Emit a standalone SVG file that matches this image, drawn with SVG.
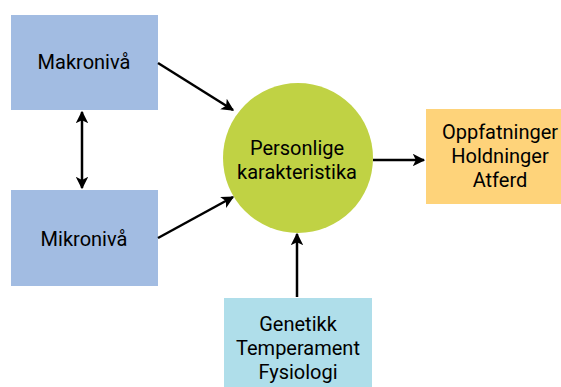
<svg xmlns="http://www.w3.org/2000/svg" width="561" height="387" viewBox="0 0 561 387">
<style>
text{font-family:Roboto,"Liberation Sans",sans-serif;font-size:20px;fill:#000;text-anchor:middle}
.c{stroke:#000;stroke-width:2.5;fill:none}
</style>
<defs>
<marker id="a" viewBox="0 0 10 10" refX="9" refY="5" markerWidth="5" markerHeight="5" orient="auto-start-reverse" markerUnits="strokeWidth">
<path d="M0,0 L10,5 L0,10 L2.5,5 Z" fill="#000"/>
</marker>
</defs>
<rect width="561" height="387" fill="#fff"/>
<g id="makro"><rect x="11" y="15" width="147" height="95" fill="#a2bce2"/><text x="84" y="69">Makronivå</text></g>
<g id="mikro"><rect x="11" y="190" width="147" height="96" fill="#a2bce2"/><text x="84" y="246">Mikronivå</text></g>
<g id="personlige"><circle cx="298" cy="158" r="75" fill="#c0d244"/><text x="297" y="155">Personlige</text><text x="297" y="179">karakteristika</text></g>
<g id="utfall"><rect x="426" y="109" width="148" height="95" fill="#fed37a"/><text x="500" y="139">Oppfatninger</text><text x="500" y="163">Holdninger</text><text x="500" y="187">Atferd</text></g>
<g id="genetikk"><rect x="224" y="298" width="148" height="95" fill="#afdeea"/><text x="298" y="331">Genetikk</text><text x="298" y="355">Temperament</text><text x="298" y="379">Fysiologi</text></g>
<g id="connectors">
<line class="c" x1="158" y1="63" x2="233" y2="110" marker-end="url(#a)"/>
<line class="c" x1="158" y1="238" x2="233" y2="197" marker-end="url(#a)"/>
<line class="c" x1="82" y1="112" x2="82" y2="188" marker-start="url(#a)" marker-end="url(#a)"/>
<line class="c" x1="373" y1="160" x2="424" y2="160" marker-end="url(#a)"/>
<line class="c" x1="297" y1="297" x2="297" y2="234" marker-end="url(#a)"/>
</g>
</svg>
